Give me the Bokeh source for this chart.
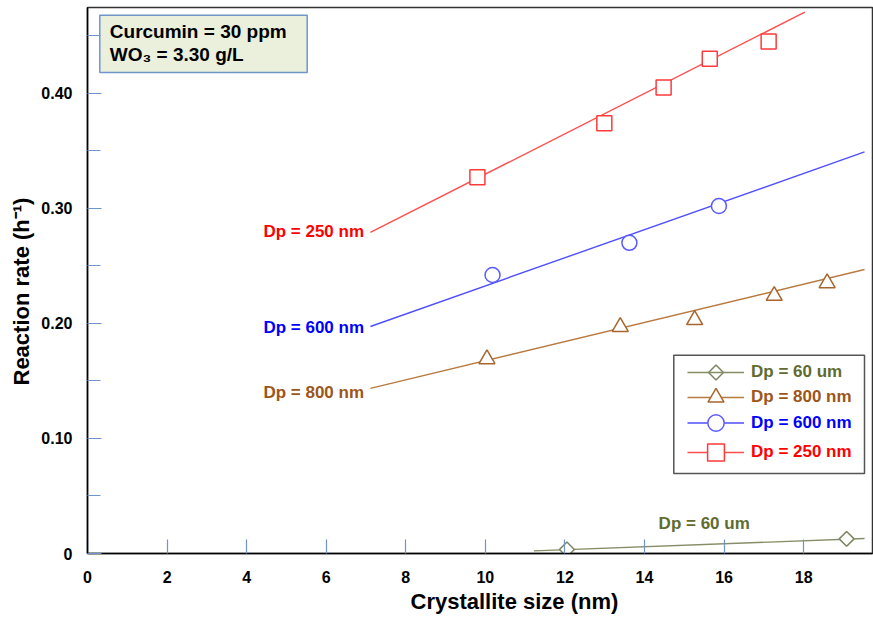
import math
from bokeh.plotting import figure
from bokeh.models import Range1d, FixedTicker, NumeralTickFormatter, Legend, LegendItem, Title
from bokeh.core.properties import value
from bokeh.embed import file_html
from bokeh.resources import INLINE

# Measured reaction rates (h^-1) against crystallite size (nm)
size_250nm = [9.80, 12.99, 14.48, 15.64, 17.12]
rate_250nm = [0.327, 0.374, 0.405, 0.430, 0.445]
size_600nm = [10.18, 13.62, 15.87]
rate_600nm = [0.242, 0.270, 0.302]
size_800nm = [10.04, 13.39, 15.26, 17.26, 18.59]
rate_800nm = [0.169, 0.197, 0.203, 0.224, 0.235]
size_60um = [12.05, 19.08]
rate_60um = [0.0035, 0.0127]

# Linear trend lines (end points)
fit_250nm_x = [7.11, 18.03]
fit_250nm_y = [0.279, 0.4705]
fit_600nm_x = [7.11, 19.53]
fit_600nm_y = [0.1973, 0.349]
fit_800nm_x = [7.11, 19.53]
fit_800nm_y = [0.1435, 0.2468]
fit_60um_x = [11.22, 19.53]
fit_60um_y = [0.0023, 0.013]

x_ticks = [0, 2, 4, 6, 8, 10, 12, 14, 16, 18]
y_ticks = [0, 0.1, 0.2, 0.3, 0.4]
y_minor = [0.05, 0.15, 0.25, 0.35, 0.45]

FONT = "Liberation Sans"
W, H = 873, 617
BL, BR, BT, BB = 87, 1, 7, 64
FW, FH = W - BL - BR, H - BT - BB

p = figure(width=W, height=H, output_backend="svg", toolbar_location=None,
           x_range=Range1d(0, 19.73), y_range=Range1d(0, 0.4745),
           min_border_left=BL, min_border_right=BR, min_border_top=BT, min_border_bottom=BB)
# pixel-based ranges over the plot frame, for the annotation boxes
p.extra_x_ranges = {"px": Range1d(0, FW)}
p.extra_y_ranges = {"py": Range1d(0, FH)}

p.xgrid.visible = False
p.ygrid.visible = False
p.outline_line_color = "#333333"
p.outline_line_width = 1.5
p.background_fill_color = "white"
p.border_fill_color = "white"

TICK = "#6f95cc"
for ax in (p.xaxis[0], p.yaxis[0]):
    ax.axis_line_color = "black"
    ax.axis_line_width = 1.5
    ax.major_tick_in = 14
    ax.major_tick_out = 0
    ax.minor_tick_in = 13
    ax.minor_tick_out = 0
    ax.major_tick_line_color = TICK
    ax.minor_tick_line_color = TICK
    ax.major_tick_line_width = 1.2
    ax.minor_tick_line_width = 1.2
    ax.major_label_text_font = FONT
    ax.major_label_text_font_style = "bold"
    ax.major_label_text_font_size = "16px"
    ax.major_label_text_color = "black"

p.xaxis.ticker = FixedTicker(ticks=x_ticks)
p.xaxis.major_label_standoff = 17

p.yaxis.ticker = FixedTicker(ticks=y_ticks, minor_ticks=y_minor)
p.yaxis.formatter = NumeralTickFormatter(format="0.00")
p.yaxis.major_label_overrides = {0: "0"}
p.yaxis.major_label_standoff = 15

# Axis titles, placed as side titles so they can sit off-centre
p.add_layout(Title(text="Crystallite size (nm)", align="left", offset=323, standoff=2,
                   text_font=FONT, text_font_style="bold", text_font_size="22px",
                   text_color="black"), "below")
p.add_layout(Title(text="Reaction rate (h\u207b\u00b9)", align="left", offset=168, standoff=10,
                   text_font=FONT, text_font_style="bold", text_font_size="22px",
                   text_color="black"), "left")

series = [
    # name, xs, ys, fit x, fit y, marker, size, angle, line col, marker col, text col
    ("Dp = 60 um", size_60um, rate_60um, fit_60um_x, fit_60um_y, "square", 10.5, math.pi / 4,
     "#848d66", "#7b8560", "#5f6b2f"),
    ("Dp = 800 nm", size_800nm, rate_800nm, fit_800nm_x, fit_800nm_y, "triangle", 16, 0,
     "#b97a40", "#a8662e", "#9c5619"),
    ("Dp = 600 nm", size_600nm, rate_600nm, fit_600nm_x, fit_600nm_y, "circle", 15, 0,
     "#4f4fff", "#5a5aff", "#0000ff"),
    ("Dp = 250 nm", size_250nm, rate_250nm, fit_250nm_x, fit_250nm_y, "square", 15, 0,
     "#ff4f4f", "#ff3a3a", "#ff0000"),
]

renderers = {}
for name, xs, ys, fx, fy, marker, size, ang, lc, mc, tc in series:
    ln = p.line(fx, fy, line_color=lc, line_width=1.4)
    sc = p.scatter(xs, ys, marker=marker, size=size, angle=ang, fill_color="white",
                   line_color=mc, line_width=1.5)
    renderers[name] = (ln, sc, tc, mc)

# Legend frame
p.quad(left=[586.3], right=[777], bottom=[80], top=[198.3], x_range_name="px", y_range_name="py",
       fill_color="white", line_color="#555555", line_width=1.5)

# One single-item legend per series so each label keeps its own colour
legend_rows = {"Dp = 60 um": (181, 26), "Dp = 800 nm": (156, 40),
               "Dp = 600 nm": (130, 41), "Dp = 250 nm": (101, 42)}
for name, (cy, gh) in legend_rows.items():
    ln, sc, tc, mc = renderers[name]
    # legend markers are drawn unrotated, so the diamond gets its own symbol below
    items = [ln] if name == "Dp = 60 um" else [ln, sc]
    lg = Legend(items=[LegendItem(label=name, renderers=items)],
                location=(600, cy - gh // 2), glyph_width=57, glyph_height=gh,
                label_height=18, label_standoff=7, padding=0, margin=0, spacing=0,
                border_line_alpha=0, background_fill_alpha=0,
                label_text_font=FONT, label_text_font_style="bold",
                label_text_font_size="17px", label_text_color=tc)
    p.add_layout(lg)

p.scatter([628.5], [181], marker="square", size=10.5, angle=math.pi / 4, fill_color="white",
          line_color=renderers["Dp = 60 um"][3], line_width=1.5,
          x_range_name="px", y_range_name="py", level="overlay")

# Series labels next to the trend lines
lab_x = [6.95, 6.95, 6.95, 15.5]
lab_y = [0.2798, 0.1967, 0.1403, 0.026]
lab_t = ["Dp = 250 nm", "Dp = 600 nm", "Dp = 800 nm", "Dp = 60 um"]
lab_c = ["#ff0000", "#0000ff", "#9c5619", "#5f6b2f"]
lab_a = ["right", "right", "right", "center"]
p.text(lab_x, lab_y, text=lab_t, text_color=lab_c, text_align=lab_a, text_baseline="middle",
       text_font=value(FONT), text_font_style="bold", text_font_size="17px")

# Condition box
p.quad(left=[12.3], right=[219.7], bottom=[481], top=[538.3], x_range_name="px", y_range_name="py",
       fill_color="#ebf0dc", line_color="#7096c8", line_width=1.5)
p.text([22.3, 22.3], [521.7, 499], text=["Curcumin = 30 ppm", "WO\u2083 = 3.30 g/L"],
       x_range_name="px", y_range_name="py", text_color="black", text_align="left",
       text_baseline="middle", text_font=value(FONT), text_font_style="bold", text_font_size="19px")

open("out.html", "w").write(file_html(p, INLINE))
